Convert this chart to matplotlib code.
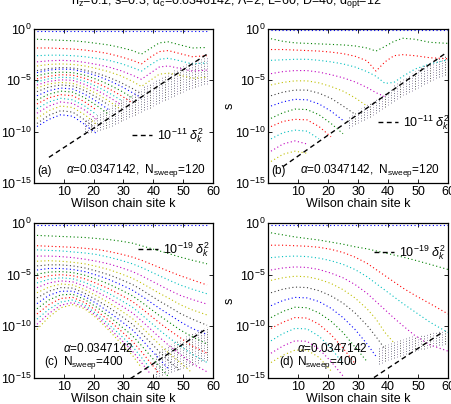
import numpy as np
import matplotlib
matplotlib.use('Agg')
import matplotlib.pyplot as plt

plt.rcParams['font.family'] = ['Liberation Sans', 'DejaVu Sans']
plt.rcParams['mathtext.fontset'] = 'custom'
plt.rcParams['mathtext.rm'] = 'Liberation Sans'
plt.rcParams['mathtext.it'] = 'Liberation Sans:italic'
plt.rcParams['mathtext.bf'] = 'Liberation Sans:bold'

k_ac = [1, 5, 9, 13, 17, 21, 25, 29, 33, 36, 39, 42, 45, 49, 53, 58]
k_bd = [1, 5, 9, 13, 17, 21, 25, 29, 33, 36, 39, 42, 45, 49, 54, 60]

# log10 of singular values, one row per curve
sv_a = [
    [-0.15, -0.15, -0.15, -0.15, -0.15, -0.15, -0.15, -0.15, -0.15, -0.15, -0.15, -0.15, -0.15, -0.15, -0.15, -0.15],
    [-1.0, -1.05, -1.1, -1.15, -1.25, -1.4, -1.55, -1.8, -2.1, -2.45, -1.9, -1.35, -1.25, -1.55, -1.85, -1.8],
    [-1.85, -1.85, -1.9, -1.95, -2.05, -2.2, -2.4, -2.7, -3.05, -3.4, -2.75, -2.2, -2.1, -2.4, -2.7, -2.6],
    [-2.6, -2.55, -2.55, -2.6, -2.7, -2.85, -3.05, -3.35, -3.75, -4.1, -3.5, -2.95, -2.85, -3.1, -3.4, -3.3],
    [-3.2, -3.1, -3.05, -3.1, -3.25, -3.45, -3.7, -4.05, -4.5, -4.9, -4.3, -3.7, -3.6, -3.85, -4.1, -4.0],
    [-3.6, -3.45, -3.4, -3.45, -3.6, -3.85, -4.15, -4.55, -5.1, -5.6, -5.0, -4.4, -4.3, -4.5, -4.8, -4.7],
    [-4.05, -3.85, -3.75, -3.8, -4.0, -4.3, -4.7, -5.2, -5.8, -6.3],
    [-4.25, -4.0, -3.9, -3.95, -4.2, -4.55, -5.0, -5.55, -6.2, -6.7],
    [-4.55, -4.3, -4.2, -4.25, -4.5, -4.9, -5.4, -6.0, -6.7],
    [-4.85, -4.6, -4.45, -4.5, -4.8, -5.25, -5.8, -6.45, -7.2],
    [-5.15, -4.85, -4.7, -4.75, -5.1, -5.6, -6.2, -6.9],
    [-5.45, -5.1, -4.95, -5.0, -5.4, -5.95, -6.6, -7.35],
    [-5.75, -5.35, -5.2, -5.3, -5.7, -6.3, -7.0, -7.8],
    [-6.1, -5.65, -5.45, -5.55, -6.0, -6.65, -7.4],
    [-6.5, -6.0, -5.75, -5.85, -6.35, -7.05, -7.85],
    [-6.9, -6.35, -6.05, -6.15, -6.7, -7.45, -8.3],
    [-7.3, -6.7, -6.4, -6.5, -7.1, -7.9],
    [-7.75, -7.1, -6.75, -6.9, -7.5, -8.35],
    [-8.2, -7.5, -7.1, -7.25, -7.9, -8.8],
    [-8.7, -7.95, -7.5, -7.65, -8.35, -9.3],
    [-9.2, -8.4, -7.95, -8.1, -8.85, -9.8],
    [-9.5, -8.8, -8.35, -8.5, -9.3, -10.2],
]
sv_b = [
    [-0.1, -0.1, -0.1, -0.1, -0.1, -0.1, -0.1, -0.1, -0.1, -0.1, -0.1, -0.1, -0.1, -0.1, -0.1, -0.1],
    [-0.95, -1.2, -1.35, -1.4, -1.45, -1.5, -1.55, -1.65, -1.85, -2.15, -1.7, -1.2, -0.9, -1.0, -1.3, -1.4],
    [-2.0, -2.0, -2.05, -2.1, -2.15, -2.25, -2.4, -2.65, -3.1, -4.1, -3.2, -2.6, -2.5, -2.6, -2.8, -2.9],
    [-3.05, -3.0, -2.95, -2.95, -3.05, -3.2, -3.4, -3.7, -4.15, -4.6, -5.3, -5.2, -4.6, -3.9, -3.4, -3.0],
    [-4.35, -4.15, -4.05, -4.05, -4.2, -4.45, -4.75, -5.15, -5.7, -6.2, -6.6],
    [-5.45, -5.2, -5.05, -5.05, -5.25, -5.6, -6.05, -6.7, -7.5],
    [-6.5, -6.15, -5.95, -5.95, -6.25, -6.75, -7.5, -8.3],
    [-7.5, -7.1, -6.85, -6.9, -7.3, -8.0, -8.9],
    [-8.7, -8.15, -7.8, -7.85, -8.35, -9.2, -10.2],
    [-9.5, -9.0, -8.8, -8.85, -9.5, -10.5],
    [-10.7, -10.1, -9.85, -9.95, -10.7],
    [-11.9, -11.2, -10.9, -11.2],
    [-12.9, -12.2, -11.9, -12.1],
]
sv_c = [
    [-0.2, -0.2, -0.2, -0.2, -0.2, -0.2, -0.2, -0.2, -0.2, -0.2, -0.2, -0.2, -0.2, -0.2, -0.2, -0.2],
    [-1.2, -1.25, -1.3, -1.35, -1.4, -1.5, -1.6, -1.75, -1.95, -2.2, -2.45, -2.7, -2.95, -3.3, -3.6, -3.95],
    [-2.2, -2.25, -2.3, -2.35, -2.45, -2.55, -2.75, -3.0, -3.3, -3.6, -3.95, -4.3, -4.65, -5.1, -5.5, -6.0],
    [-2.6, -2.65, -2.7, -2.8, -2.9, -3.05, -3.3, -3.6, -3.95, -4.3, -4.7, -5.1, -5.5, -6.0, -6.4, -6.85],
    [-3.2, -3.2, -3.25, -3.35, -3.5, -3.7, -3.95, -4.3, -4.7, -5.1, -5.55, -6.0, -6.45, -7.0, -7.4, -7.85],
    [-3.7, -3.65, -3.7, -3.8, -3.95, -4.2, -4.5, -4.9, -5.35, -5.8, -6.3, -6.8, -7.25, -7.9, -8.4, -8.9],
    [-4.15, -4.05, -4.05, -4.15, -4.35, -4.65, -5.0, -5.45, -5.95, -6.45, -7.0, -7.55, -8.05, -8.75, -9.3, -9.9],
    [-4.55, -4.4, -4.4, -4.5, -4.7, -5.05, -5.45, -5.95, -6.5, -7.05, -7.65, -8.25, -8.8, -9.55, -10.2, -10.8],
    [-4.95, -4.75, -4.7, -4.8, -5.05, -5.45, -5.9, -6.45, -7.05, -7.65, -8.3, -8.95, -9.55, -10.35, -11.0, -11.7],
    [-5.35, -5.1, -5.0, -5.1, -5.4, -5.85, -6.35, -6.95, -7.6, -8.25, -8.95, -9.65, -10.3, -11.1, -11.9, -12.6],
    [-5.8, -5.45, -5.3, -5.4, -5.75, -6.25, -6.8, -7.45, -8.15, -8.85, -9.6, -10.35, -11.05, -11.9, -12.7, -13.5],
    [-6.25, -5.8, -5.6, -5.7, -6.1, -6.65, -7.25, -7.95, -8.7, -9.45, -10.25, -11.05, -11.8, -12.7, -13.6, -14.4],
    [-6.75, -6.2, -5.9, -6.0, -6.45, -7.05, -7.7, -8.45, -9.25, -10.05, -10.9, -11.75, -12.55, -13.5, -14.5],
    [-7.25, -6.6, -6.25, -6.3, -6.8, -7.45, -8.15, -8.95, -9.8, -10.65, -11.55, -12.45, -13.3, -14.3],
    [-7.8, -7.0, -6.6, -6.6, -7.1, -7.8, -8.6, -9.45, -10.35, -11.25, -12.2, -13.15, -14.1],
    [-8.3, -7.45, -6.95, -6.9, -7.4, -8.15, -9.0, -9.95, -10.9, -11.85, -12.85, -13.85, -14.85],
    [-8.8, -7.9, -7.3, -7.2, -7.7, -8.5, -9.4, -10.4, -11.45, -12.45, -13.5, -14.6],
    [-9.3, -8.35, -7.65, -7.45, -7.95, -8.8, -9.8, -10.85, -11.95, -13.0, -14.1],
    [-9.8, -8.75, -7.95, -7.7, -8.15, -9.0, -10.1, -11.25, -12.4, -13.5, -14.6],
    [-10.3, -9.1, -8.2, -7.9, -8.3, -9.2, -10.35, -11.6, -12.8, -14.0],
]
sv_d = [
    [-0.15, -0.15, -0.15, -0.15, -0.15, -0.15, -0.15, -0.15, -0.15, -0.15, -0.15, -0.15, -0.15, -0.15, -0.15, -0.15],
    [-0.95, -1.15, -1.35, -1.5, -1.65, -1.85, -2.05, -2.3, -2.5, -2.7, -2.9, -3.1, -3.3, -3.6, -4.0, -4.5],
    [-2.15, -2.15, -2.2, -2.25, -2.35, -2.55, -2.85, -3.3, -3.9, -4.5, -5.1, -5.7, -6.3, -7.0, -7.8, -8.8],
    [-3.35, -3.25, -3.2, -3.25, -3.4, -3.65, -4.0, -4.5, -5.2, -5.85, -6.5, -7.15, -7.8, -8.6, -9.6, -10.6],
    [-4.55, -4.35, -4.25, -4.3, -4.5, -4.85, -5.3, -5.95, -6.8, -7.6, -8.4, -9.2, -9.95, -10.9, -11.8, -12.4],
    [-5.55, -5.3, -5.15, -5.2, -5.45, -5.85, -6.45, -7.25, -8.3, -9.3, -10.6, -11.6],
    [-6.75, -6.4, -6.2, -6.25, -6.55, -7.05, -7.75, -8.7, -9.9, -11.0, -12.2],
    [-8.0, -7.5, -7.2, -7.25, -7.6, -8.25, -9.15, -10.3, -11.7, -12.9],
    [-9.15, -8.55, -8.15, -8.2, -8.7, -9.5, -10.6, -12.0, -13.4],
    [-10.2, -9.6, -9.15, -9.2, -9.8, -10.8, -12.1, -13.6],
    [-11.4, -10.7, -10.2, -10.25, -10.95, -12.1, -13.6],
    [-12.6, -11.9, -11.4, -11.45, -12.2, -13.4, -14.8],
    [-13.5, -12.8, -12.3, -12.3, -13.0, -14.3],
]

# dense band of small singular values (top / bottom, log10) per site
band_k_a = list(range(17, 59))
band_top_a = [-8.9, -8.75, -8.55, -8.45, -8.25, -8.1, -7.9, -7.8, -7.6, -7.45, -7.25, -7.1, -6.95, -6.8,
              -6.6, -6.45, -6.3, -6.1, -5.95, -5.8, -5.6, -5.45, -5.3, -5.1, -4.95, -4.8, -4.6, -4.45,
              -4.3, -4.15, -4.0, -3.85, -3.7, -3.55, -3.45, -3.3, -3.2, -3.1, -3.0, -2.9, -2.85, -2.75]
band_bot_a = [-10.2, -10.15, -10.05, -9.95, -9.9, -9.8, -9.7, -9.6, -9.5, -9.4, -9.25, -9.15, -9.0, -8.9,
              -8.75, -8.6, -8.5, -8.35, -8.2, -8.05, -7.9, -7.8, -7.65, -7.5, -7.35, -7.2, -7.05, -6.9,
              -6.8, -6.65, -6.5, -6.35, -6.2, -6.1, -5.95, -5.85, -5.75, -5.65, -5.55, -5.45, -5.4, -5.35]
band_k_b = list(range(27, 61))
band_top_b = [-8.5, -8.3, -8.1, -7.9, -7.7, -7.5, -7.3, -7.1, -6.9, -6.7, -6.5, -6.3, -6.1, -5.9, -5.7,
              -5.5, -5.3, -5.1, -4.9, -4.7, -4.5, -4.3, -4.1, -3.9, -3.7, -3.5, -3.35, -3.2, -3.05,
              -2.9, -2.8, -2.7, -2.6, -2.5]
band_bot_b = [-9.6, -9.45, -9.3, -9.15, -9.0, -8.85, -8.7, -8.55, -8.4, -8.2, -8.0, -7.8, -7.6, -7.4,
              -7.2, -7.0, -6.8, -6.6, -6.45, -6.3, -6.15, -6.0, -5.85, -5.7, -5.55, -5.4, -5.25, -5.1,
              -4.95, -4.8, -4.7, -4.6, -4.5, -4.4]
band_k_c = list(range(41, 59))
band_top_c = [-12.6, -12.4, -12.2, -12.0, -11.8, -11.7, -11.5, -11.4, -11.2, -11.1, -10.9, -10.8, -10.6,
              -10.5, -10.4, -10.3, -10.2, -10.1]
band_bot_c = [-14.9, -14.8, -14.7, -14.6, -14.5, -14.4, -14.3, -14.2, -14.1, -14.0, -13.9, -13.8, -13.7,
              -13.6, -13.5, -13.4, -13.35, -13.3]
band_k_d = list(range(37, 61))
band_top_d = [-12.0, -11.9, -11.8, -11.7, -11.6, -11.5, -11.4, -11.3, -11.2, -11.1, -11.0, -10.95, -10.9,
              -10.85, -10.8, -10.7, -10.65, -10.6, -10.5, -10.45, -10.4, -10.35, -10.3, -10.2]
band_bot_d = [-13.6, -13.5, -13.4, -13.3, -13.2, -13.1, -13.0, -12.9, -12.8, -12.7, -12.6, -12.5, -12.4,
              -12.3, -12.2, -12.15, -12.1, -12.0, -11.95, -11.9, -11.85, -11.8, -11.75, -11.7]

# reference lines c * delta_k^2 (log10)
dash_k_a, dash_a = [5, 58], [-12.5, -2.45]
dash_k_b, dash_b = [5, 59], [-13.4, -2.4]
dash_k_c, dash_c = [30, 58], [-15.5, -10.2]
dash_k_d, dash_d = [33, 58], [-15.4, -10.6]

dash_labels = [r'$10^{-11}\ \delta_k^2$', r'$10^{-11}\ \delta_k^2$',
               r'$10^{-19}\ \delta_k^2$', r'$10^{-19}\ \delta_k^2$']
panel_tags = ['(a)', '(b)', '(c)', '(d)']

# old matlab colour order
cols = [(0, 0, 1), (0, 0.5, 0), (1, 0, 0), (0, 0.75, 0.75),
        (0.75, 0, 0.75), (0.75, 0.75, 0), (0.25, 0.25, 0.25)]
band_cols = ['#6e6e82', '#9587a8', '#5a5a5a', '#a497b4', '#7c7c8e']

fig = plt.figure(figsize=(4.52, 4.04), dpi=100)
W, H = 452, 404
boxes = [(34, 29, 179, 154), (268, 29, 180, 154), (34, 223, 179, 155), (268, 223, 180, 155)]
panels = [
    (k_ac, sv_a, band_k_a, band_top_a, band_bot_a, dash_k_a, dash_a),
    (k_bd, sv_b, band_k_b, band_top_b, band_bot_b, dash_k_b, dash_b),
    (k_ac, sv_c, band_k_c, band_top_c, band_bot_c, dash_k_c, dash_c),
    (k_bd, sv_d, band_k_d, band_top_d, band_bot_d, dash_k_d, dash_d),
]
legend_pos = [(0.55, 0.31), (0.61, 0.39), (0.58, 0.83), (0.59, 0.81)]

for i, (box, pan) in enumerate(zip(boxes, panels)):
    x0, y0, w, h = box
    ax = fig.add_axes([x0 / W, 1 - (y0 + h) / H, w / W, h / H])
    kk, sv, bk, btop, bbot, dk, dv = pan

    # band of small values, drawn as dotted vertical stripes
    bc = [band_cols[j % len(band_cols)] for j in range(len(bk))]
    ax.vlines(bk, 10.0 ** np.array(bbot), 10.0 ** np.array(btop),
              colors=bc, linestyles=(0, (1, 1.6)), linewidth=0.7)

    for j, row in enumerate(sv):
        ax.plot(kk[:len(row)], 10.0 ** np.array(row), color=cols[j % 7],
                ls=(0, (1, 2.3)), lw=0.8)

    dl, = ax.plot(dk, 10.0 ** np.array(dv), color='k', ls=(0, (3.5, 2.5)), lw=1.0,
                  label=dash_labels[i])
    ax.legend(handles=[dl], loc='center left', bbox_to_anchor=legend_pos[i],
              frameon=False, fontsize=9, handlelength=1.6, handletextpad=0.4,
              borderpad=0, borderaxespad=0)

    ax.set_yscale('log')
    ax.set_xlim(0, 60)
    ax.set_ylim(1e-15, 1)
    ax.set_xticks([10, 20, 30, 40, 50, 60])
    ax.set_yticks([1e0, 1e-5, 1e-10, 1e-15])
    ax.minorticks_off()
    ax.tick_params(direction='in', length=3, width=0.6, top=True, right=True,
                   labelsize=9, pad=2)
    for s in ax.spines.values():
        s.set_linewidth(0.9)
    ax.set_xlabel('Wilson chain site k', fontsize=9, labelpad=0)
    if i % 2 == 1:
        ax.set_ylabel('s', fontsize=9, labelpad=-1)

    if i < 2:
        ax.text(0.02, 0.08, panel_tags[i], transform=ax.transAxes, fontsize=8.5, va='center')
        ax.text(0.18, 0.08, r'$\alpha$=0.0347142,  N$_{\rm sweep}$=120',
                transform=ax.transAxes, fontsize=8.5, va='center')
    else:
        ax.text(0.06, 0.10, panel_tags[i], transform=ax.transAxes, fontsize=8.5, va='center')
        ax.text(0.16, 0.19, r'$\alpha$=0.0347142', transform=ax.transAxes,
                fontsize=8.5, va='center')
        ax.text(0.16, 0.10, r'N$_{\rm sweep}$=400', transform=ax.transAxes,
                fontsize=8.5, va='center')

fig.text(0.5, 1 - 4 / H,
         r'h$_{\rm z}$=0.1, s=0.3, $\alpha_{\rm c}$=0.0346142, $\Lambda$=2, L=60, D=40, d$_{\rm opt}$=12',
         ha='center', va='baseline', fontsize=9)

fig.savefig('out.png', dpi=100)
